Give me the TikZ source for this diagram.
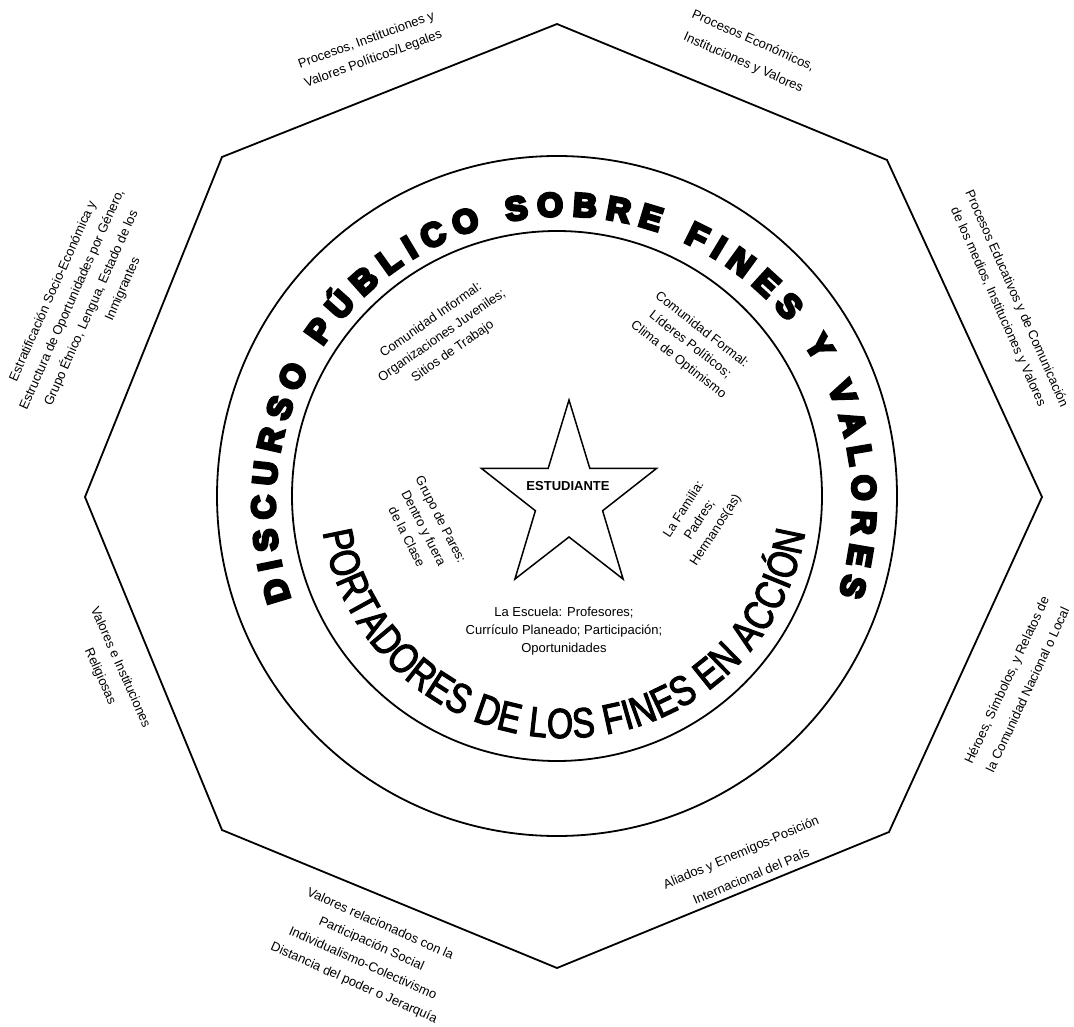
\documentclass[tikz,border=0pt]{standalone}
\usepackage{fontspec}
\setmainfont{Liberation Sans}
\newfontfamily\discfont[FakeBold=9]{Liberation Sans Bold}
\newfontfamily\portfont[FakeStretch=0.8,FakeBold=2.5]{Liberation Sans}
\usetikzlibrary{calc,decorations.text}

\begin{document}
\begin{tikzpicture}[x=1pt, y=1pt,
    edge/.style = {line width=1.8pt, line join=miter},
    ring/.style = {line width=1.8pt},
    starline/.style = {line width=1.5pt, line join=miter},
    lbl/.style = {font=\fontsize{13}{#1}\selectfont, align=center, inner sep=0pt},
    lbl/.default = 20]
  \useasboundingbox (0,0) rectangle (1074,-1027);
  \coordinate (o1) at (557,-24);
  \coordinate (o2) at (887,-160);
  \coordinate (o3) at (1042,-497);
  \coordinate (o4) at (889,-832);
  \coordinate (o5) at (557,-968);
  \coordinate (o6) at (222,-830);
  \coordinate (o7) at (85,-497);
  \coordinate (o8) at (222,-157);
  \draw [edge] (o1) -- (o2) -- (o3) -- (o4) -- (o5) -- (o6) -- (o7) -- (o8) -- cycle;
  \coordinate (c) at (557,-496);
  \coordinate (cdisc) at (564,-505);
  \coordinate (cport) at (564,-494);
  \draw [ring] (c) circle [radius=340];
  \draw [ring] (c) circle [radius=265];
  \path [decorate, decoration={text along path,
      text={|\discfont\fontsize{33}{33}\selectfont|DISCURSO PÚBLICO SOBRE FINES Y VALORES},
      text align={fit to path}}]
    ($(cdisc)+(199:289)$) arc [start angle=199, end angle=-18, radius=289];
  \path [decorate, decoration={text along path,
      text={|\portfont\fontsize{42}{42}\selectfont|PORTADORES DE LOS FINES EN ACCIÓN},
      text align={fit to path}}]
    ($(cport)+(189:244)$) arc [start angle=189, end angle=351, radius=244];
  \draw [starline, shift={(569,-499)}, xscale=.93] (90:99)
    \foreach \k in {1,...,9} { -- ({90+36*\k}:{ifthenelse(mod(\k,2)==1,38,99)}) } -- cycle;
  \node [font=\bfseries\fontsize{13}{15}\selectfont, inner sep=0pt] (estudiante) at (568,-486) {ESTUDIANTE};
  \node [lbl=18] (escuela) at (564,-631) {La Escuela: Profesores;\\Currículo Planeado; Participación;\\Oportunidades};
  \node [lbl=19, rotate=35] (informal) at (442,-336) {Comunidad Informal:\\Organizaciones Juveniles;\\Sitios de Trabajo};
  \node [lbl=19, rotate=-38] (formal) at (690,-345) {Comunidad Formal:\\Líderes Políticos;\\Clima de Optimismo};
  \node [lbl=19, rotate=-63] (pares) at (424,-528) {Grupo de Pares:\\Dentro y fuera\\de la Clase};
  \node [lbl=19, rotate=57] (familia) at (700,-520) {La Familia:\\Padres;\\Hermanos(as)};
  \node [lbl, rotate=20] (politicos) at (370,-50) {Procesos, Instituciones y\\Valores Políticos/Legales};
  \node [lbl=24, rotate=-24] (economicos) at (748,-52) {Procesos Económicos,\\Instituciones y Valores};
  \node [lbl, rotate=-66] (educativos) at (1007,-303) {Procesos Educativos y de Comunicación\\de los medios, Instituciones y Valores};
  \node [lbl=23, rotate=65] (heroes) at (1017,-685) {Héroes, Símbolos, y Relatos de\\la Comunidad Nacional o Local};
  \node [lbl=26, rotate=23] (aliados) at (746,-864) {Aliados y Enemigos-Posición\\Internacional del País};
  \node [lbl=21.5, rotate=-24] (relacionados) at (367,-954) {Valores relacionados con la\\Participación Social\\Individualismo-Colectivismo\\Distancia del poder o Jerarquía};
  \node [lbl=22, rotate=-66] (religiosas) at (110,-672) {Valores e Instituciones\\Religiosas};
  \node [lbl=21, rotate=66] (estratificacion) at (82,-304) {Estratificación Socio-Económica y\\Estructura de Oportunidades por Género,\\Grupo Étnico, Lengua, Estado de los\\\hspace*{60pt}Inmigrantes};
\end{tikzpicture}
\end{document}
